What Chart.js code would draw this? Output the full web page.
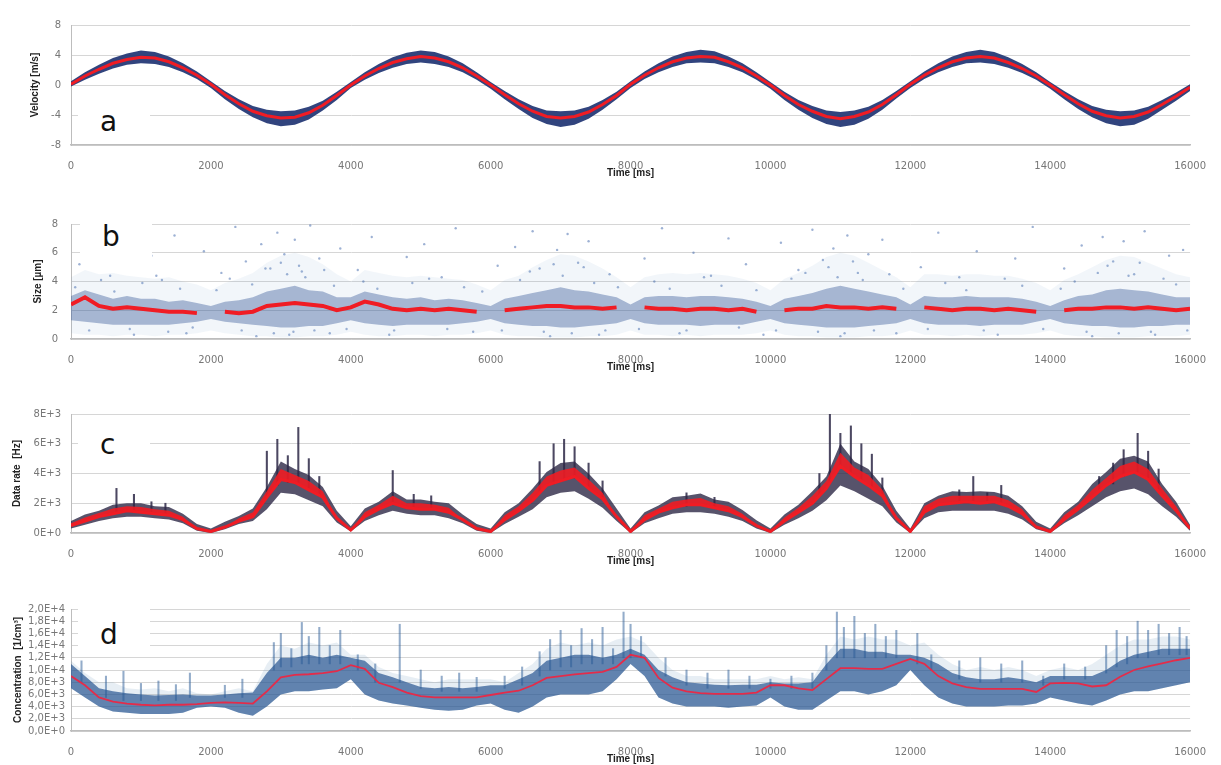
<!DOCTYPE html>
<html>
<head>
<meta charset="utf-8">
<script src="https://cdn.jsdelivr.net/npm/chart.js@4.4.1/dist/chart.umd.min.js"></script>
<style>
  body { margin: 0; background: #fff; width: 1221px; height: 765px; overflow: hidden; position: relative; font-family: "DejaVu Sans", sans-serif; }
  canvas { position: absolute; left: 0; }
  .tag { position: absolute; background: #fff; z-index: 2; }
  .tag span { position: absolute; font-size: 28px; line-height: 28px; color: #111; }
</style>
</head>
<body>
<canvas id="chartA" width="1221" height="170" style="top:9px"></canvas>
<canvas id="chartB" width="1221" height="168" style="top:205px"></canvas>
<canvas id="chartC" width="1221" height="169" style="top:398px"></canvas>
<canvas id="chartD" width="1221" height="168" style="top:597px"></canvas>
<div class="tag" style="left:78px;top:96px;width:72px;height:44px"><span style="left:22px;top:12px">a</span></div>
<div class="tag" style="left:80px;top:208px;width:72px;height:49px"><span style="left:22px;top:15px">b</span></div>
<div class="tag" style="left:78px;top:428px;width:72px;height:34px"><span style="left:22px;top:3px">c</span></div>
<div class="tag" style="left:78px;top:603px;width:72px;height:52px"><span style="left:22px;top:18px">d</span></div>
<script>
// time axis, ms
const timeMs = [0,200,400,600,800,1000,1200,1400,1600,1800,2000,2200,2400,2600,2800,3000,3200,3400,3600,3800,4000,
  4200,4400,4600,4800,5000,5200,5400,5600,5800,6000,6200,6400,6600,6800,7000,7200,7400,7600,7800,8000,
  8200,8400,8600,8800,9000,9200,9400,9600,9800,10000,10200,10400,10600,10800,11000,11200,11400,11600,11800,12000,
  12200,12400,12600,12800,13000,13200,13400,13600,13800,14000,14200,14400,14600,14800,15000,15200,15400,15600,15800,16000];
const xTicks = [0,2000,4000,6000,8000,10000,12000,14000,16000];
const xTickLabels = ['0','2000','4000','6000','8000','10000','12000','14000','16000'];

// a - velocity
const velMean = [0.1,1.2,2.1,2.9,3.4,3.7,3.6,3.1,2.3,1.3,0.1,
  -1.3,-2.5,-3.5,-4.1,-4.4,-4.3,-3.7,-2.7,-1.4,0.0,
  1.2,2.2,3.0,3.5,3.8,3.6,3.1,2.3,1.2,0.0,
  -1.3,-2.5,-3.5,-4.2,-4.4,-4.2,-3.6,-2.6,-1.4,0.1,
  1.3,2.3,3.1,3.6,3.8,3.7,3.1,2.3,1.2,0.0,
  -1.4,-2.6,-3.5,-4.2,-4.5,-4.2,-3.6,-2.6,-1.3,0.1,
  1.3,2.3,3.1,3.6,3.8,3.6,3.0,2.2,1.2,0.0,
  -1.3,-2.5,-3.5,-4.1,-4.4,-4.2,-3.6,-2.6,-1.5,-0.3];
const velHigh = [0.5,1.7,2.7,3.6,4.2,4.6,4.4,3.8,2.9,1.8,0.5,
  -0.8,-1.9,-2.8,-3.3,-3.5,-3.4,-2.9,-2.1,-0.9,0.4,
  1.7,2.8,3.7,4.3,4.6,4.4,3.8,2.9,1.7,0.4,
  -0.8,-1.9,-2.8,-3.4,-3.5,-3.4,-2.9,-2.0,-0.9,0.5,
  1.8,2.9,3.8,4.4,4.7,4.5,3.8,2.9,1.7,0.4,
  -0.9,-2.0,-2.8,-3.4,-3.6,-3.4,-2.9,-2.0,-0.8,0.5,
  1.8,2.9,3.8,4.4,4.7,4.4,3.7,2.8,1.7,0.4,
  -0.8,-1.9,-2.8,-3.3,-3.5,-3.4,-2.9,-2.0,-1.0,0.1];
const velLow = [-0.2,0.7,1.5,2.2,2.7,2.9,2.8,2.4,1.7,0.8,-0.4,
  -1.9,-3.2,-4.3,-5.1,-5.5,-5.3,-4.6,-3.4,-2.0,-0.4,
  0.7,1.6,2.3,2.8,3.0,2.8,2.4,1.7,0.7,-0.5,
  -1.9,-3.2,-4.4,-5.2,-5.6,-5.3,-4.5,-3.3,-1.9,-0.4,
  0.8,1.7,2.4,2.9,3.0,2.9,2.4,1.7,0.7,-0.5,
  -2.0,-3.3,-4.4,-5.2,-5.6,-5.3,-4.5,-3.3,-1.8,-0.4,
  0.8,1.7,2.4,2.9,3.0,2.8,2.3,1.6,0.7,-0.5,
  -1.9,-3.2,-4.3,-5.1,-5.5,-5.3,-4.5,-3.3,-2.1,-0.8];

// b - size
const sizeMean = [2.4,2.9,2.3,2.1,2.2,2.1,2.0,1.9,1.9,1.8,null,
  1.9,1.8,1.9,2.3,2.4,2.5,2.4,2.3,2.0,2.2,
  2.6,2.4,2.1,2.0,2.1,2.0,2.1,2.0,1.9,null,
  2.0,2.1,2.2,2.3,2.3,2.2,2.2,2.1,2.2,null,
  2.2,2.1,2.1,2.0,2.1,2.1,2.0,2.1,1.9,null,
  2.0,2.1,2.1,2.3,2.2,2.2,2.1,2.2,2.1,null,
  2.2,2.1,2.0,2.1,2.1,2.0,2.1,2.0,1.9,null,
  2.0,2.1,2.1,2.2,2.2,2.1,2.2,2.1,2.0,2.1];
const sizeCoreHigh = [3.0,3.4,3.1,2.8,3.0,2.8,2.8,2.6,2.7,2.5,2.3,
  2.6,2.7,2.9,3.3,3.5,3.7,3.4,3.3,2.9,2.9,
  3.3,3.1,2.9,2.8,2.9,2.7,2.8,2.7,2.5,2.3,
  2.8,3.0,3.2,3.4,3.6,3.4,3.3,3.1,2.9,2.4,
  2.9,3.0,3.0,2.9,3.0,3.0,2.9,2.8,2.6,2.3,
  2.8,3.0,3.2,3.5,3.7,3.5,3.3,3.1,2.9,2.4,
  3.0,2.9,2.9,3.0,2.9,2.9,2.9,2.8,2.6,2.3,
  2.7,3.0,3.1,3.4,3.5,3.4,3.3,3.1,2.9,2.9];
const sizeCoreLow = [1.3,1.2,1.1,1.0,1.0,1.0,1.0,1.0,1.1,1.2,1.4,
  1.2,1.1,1.0,0.9,0.8,0.8,0.9,0.9,1.1,1.3,
  1.1,1.0,0.9,1.0,1.0,1.0,1.0,1.1,1.2,1.4,
  1.1,1.0,0.9,0.9,0.8,0.8,0.9,1.0,1.1,1.4,
  1.1,1.0,1.0,1.0,0.9,1.0,1.0,1.0,1.2,1.4,
  1.1,1.0,0.9,0.8,0.8,0.8,0.9,1.0,1.1,1.4,
  1.1,1.0,1.0,1.0,0.9,1.0,1.0,1.0,1.2,1.4,
  1.1,1.0,0.9,0.9,0.8,0.8,0.9,0.9,1.0,1.0];
const sizeOuterHigh = [4.3,4.8,4.5,4.6,4.4,4.3,4.2,4.3,4.0,3.8,3.4,
  3.9,4.2,4.6,5.3,5.8,6.0,5.7,5.2,4.5,4.0,
  4.8,4.6,4.4,4.3,4.4,4.3,4.2,4.1,3.8,3.4,
  4.1,4.4,5.0,5.5,5.9,5.8,5.4,4.9,4.3,3.6,
  4.3,4.5,4.6,4.5,4.6,4.5,4.4,4.2,3.9,3.4,
  4.2,4.6,5.1,5.7,6.0,5.8,5.3,4.8,4.3,3.6,
  4.5,4.5,4.4,4.5,4.5,4.4,4.4,4.2,3.9,3.4,
  4.1,4.5,5.0,5.5,5.8,5.7,5.3,4.9,4.5,4.3];
const sizeOuterLow = [0.4,0.3,0.3,0.2,0.3,0.3,0.2,0.3,0.3,0.4,0.6,
  0.4,0.3,0.2,0.2,0.1,0.1,0.2,0.2,0.3,0.5,
  0.3,0.2,0.2,0.3,0.3,0.2,0.3,0.3,0.4,0.6,
  0.3,0.2,0.2,0.1,0.1,0.1,0.2,0.2,0.3,0.6,
  0.3,0.3,0.2,0.3,0.2,0.3,0.3,0.3,0.4,0.6,
  0.3,0.2,0.2,0.1,0.1,0.1,0.2,0.2,0.3,0.6,
  0.3,0.3,0.2,0.3,0.2,0.3,0.3,0.3,0.4,0.6,
  0.3,0.2,0.2,0.1,0.1,0.1,0.2,0.2,0.2,0.3];
const sizeDotsT = [120,350,560,780,900,1150,1300,1480,1650,1900,2150,2350,2500,2650,2720,2850,2950,3050,3120,3200,
  3300,3420,3550,3700,3850,4100,4300,4550,4800,5050,5300,5500,5750,6100,6350,6600,6700,6850,6950,7100,
  7250,7400,7550,7700,8200,8450,8700,8900,9150,9400,9650,9900,10150,10400,10600,10750,10900,11000,11100,11250,
  11400,11600,11800,12150,12400,12700,12950,13250,13500,13750,14200,14450,14600,14750,14900,15050,15200,15350,15500,15700,15900,
  60,260,430,620,840,1020,1220,1390,1560,1740,2080,2270,2440,2590,2780,2900,3000,3090,3180,3260,
  3350,3480,3620,3760,3940,4180,4380,4620,4880,5120,5380,5620,5880,6160,6420,6560,6760,6900,7030,7160,
  7330,7480,7640,7820,8120,8340,8560,8800,9050,9300,9550,9800,10080,10300,10500,10680,10830,10960,11060,11180,
  11320,11480,11700,11900,12250,12500,12800,13050,13350,13600,13900,14150,14350,14520,14680,14820,14980,15120,15280,15440,
  15620,15800,15960];
const sizeDotsV = [5.2,6.8,4.4,7.6,0.3,5.8,4.1,7.2,0.4,6.1,4.6,7.8,5.4,0.2,6.6,4.9,7.4,5.9,0.3,6.9,
  4.7,7.9,5.6,0.4,6.3,4.8,7.1,0.3,5.7,6.6,4.3,7.7,0.5,5.1,6.4,7.5,4.9,0.2,6.2,7.3,
  5.3,6.8,0.3,4.5,5.6,7.7,0.4,6.0,4.4,7.0,5.2,0.3,6.7,4.8,7.6,5.5,6.3,0.2,7.2,4.6,
  5.9,6.9,0.4,5.0,7.4,4.3,6.1,0.3,5.6,7.8,4.9,6.5,0.2,7.1,5.4,6.8,4.5,7.5,0.3,5.8,6.2,
  3.6,0.6,4.1,3.3,0.7,3.9,4.4,0.5,3.5,0.8,3.4,4.2,0.6,3.8,4.9,0.4,5.3,4.5,0.5,5.1,
  4.3,0.6,4.8,3.7,0.7,4.0,3.5,0.6,3.9,4.2,0.7,3.6,3.3,0.6,4.1,4.7,0.5,5.2,4.4,0.4,
  5.0,3.9,0.6,3.6,0.7,4.0,3.5,0.6,4.3,3.7,0.8,3.4,0.6,4.2,4.6,0.5,5.0,4.3,0.4,5.4,
  4.1,0.6,4.5,3.5,0.7,3.9,3.4,0.6,4.2,3.7,0.7,3.5,4.0,0.5,4.6,5.1,0.4,4.4,5.3,0.5,
  4.2,3.8,0.6];

// c - data rate
const rateMean = [500,800,1100,1300,1500,1400,1300,1200,900,300,100,
  400,800,1100,2400,3600,3400,2900,2400,1000,200,
  1100,1600,2000,1700,1600,1600,1400,900,300,100,
  900,1500,2200,3200,3500,3800,3000,2300,1100,100,
  900,1400,1700,1900,1900,1700,1500,1100,500,100,
  800,1400,2000,3000,4500,3800,3200,2500,1000,100,
  1400,1900,2000,2100,2000,2100,1800,1300,400,100,
  900,1600,2400,3200,3800,4100,3600,2500,1500,300];
const rateRedTop = [650,1050,1350,1650,1800,1750,1600,1500,1100,300,100,
  400,1000,1400,2800,4300,3900,3500,2800,1000,200,
  1400,1900,2500,2000,2000,1900,1700,900,300,100,
  1200,1800,2700,3800,4200,4400,3600,2700,1100,100,
  1200,1650,2100,2250,2350,2000,1800,1300,500,100,
  1050,1700,2500,3500,5400,4400,3900,2900,1000,100,
  1800,2300,2500,2500,2500,2500,2200,1600,400,100,
  1200,1900,2900,3700,4500,4800,4300,3000,1800,300];
const rateHigh = [800,1250,1500,1900,2000,2000,1800,1750,1300,600,300,
  750,1150,1650,3100,4800,4300,3900,3100,1500,450,
  1650,2100,2800,2250,2250,2100,2000,1250,600,300,
  1400,2000,3000,4100,4700,4800,4000,3000,1650,300,
  1400,1850,2400,2500,2650,2250,2100,1550,850,300,
  1250,1900,2800,3800,6000,4800,4300,3200,1500,300,
  2000,2500,2800,2750,2800,2750,2500,1800,750,300,
  1400,2100,3300,4100,5000,5200,4800,3300,2100,550];
const rateLow = [300,550,800,1000,1100,1100,1000,900,650,150,0,
  250,600,800,1600,2700,2600,2200,1800,700,100,
  800,1200,1500,1300,1200,1200,1000,650,150,0,
  600,1100,1600,2400,2700,2800,2300,1700,800,0,
  650,1000,1300,1400,1400,1300,1100,800,300,0,
  550,1000,1500,2200,3200,2800,2300,1800,700,0,
  1000,1400,1500,1500,1500,1500,1300,900,250,0,
  650,1200,1800,2400,2800,3000,2600,1800,1100,150];
const rateSpikeT = [650,900,1150,1350,2800,2950,3100,3250,3400,3550,4600,4900,5150,6700,6900,7050,7200,7400,7600,8800,
  9200,10700,10850,11000,11150,11300,11450,11600,12700,12900,13100,13300,14700,14900,15050,15250,15400,15550];
const rateSpikeLow = [1300,1400,1300,1200,2400,3200,3400,3300,3000,2500,1900,1700,1600,2800,3300,3600,3700,3000,2300,1800,
  1700,2500,3500,4500,4000,3500,3000,2500,2000,2100,2000,2000,2800,3300,3800,4100,3700,2800];
const rateSpikeHigh = [3000,2600,2100,2000,5500,6300,5200,7100,5000,3800,4200,2600,2500,4800,6000,6300,5800,4700,3500,2700,
  2400,4000,8000,6700,7200,6000,5300,3700,2900,3800,2700,3200,3800,4700,5600,6700,5500,4300];

// d - concentration
const concMean = [9000,7500,5500,4800,4500,4300,4200,4300,4300,4400,4600,
  4700,4600,4500,6500,8800,9200,9300,9500,9800,10800,
  10200,7900,7200,6300,5700,5500,5500,5500,5500,5900,
  6300,6600,7500,8700,9000,9300,9500,9700,10500,12500,
  12000,8700,7100,6500,6200,6100,6100,6100,6300,7500,
  7500,7000,6700,8500,10300,10300,10200,10200,11000,11800,
  11000,9000,7800,7200,6900,6900,6900,6900,6400,7800,
  7900,7800,7300,7500,8900,10000,10600,11100,11600,12000];
const concCoreHigh = [11000,9000,7000,6500,6200,6000,5800,5900,6000,5800,5800,
  6000,6200,6300,9500,12000,12000,12500,12000,12500,12000,
  11500,9500,8800,8000,7200,7000,7200,7000,7200,7500,
  7500,8500,9500,11500,12000,12500,12500,12000,12500,13500,
  12500,10000,8800,8000,7800,7600,7500,7600,7600,8000,
  7800,7800,8000,11000,13500,13500,13000,13000,12500,12500,
  12000,11000,9500,8800,8500,8500,8800,8500,8000,9000,
  9000,9000,9000,10000,11500,12500,13000,13500,13500,13500];
const concCoreLow = [7000,5500,4000,3200,3000,2800,2800,2800,3000,3800,4000,
  3800,3000,2500,4000,6000,6500,6500,6800,7000,8500,
  6000,5000,4500,4200,3800,3500,3300,3500,4200,4500,
  3500,3000,4000,5500,6000,6000,6000,6500,8500,11000,
  9000,5500,4500,4000,4000,4000,3800,4000,4200,5500,
  4000,3500,3500,5000,6500,6500,6000,6500,7500,10000,
  7500,5500,4500,4000,4000,4000,4200,4200,4500,5500,
  5000,4500,4200,5000,6000,6500,6500,7000,7500,8000];
const concOuterHigh = [11500,9500,8000,8000,7000,6800,7000,6500,7000,6200,6000,
  6500,7000,6500,11000,14000,13500,14500,14000,14500,12500,
  12500,10500,9500,9000,8500,8000,8500,8500,8500,8500,
  8000,9500,11000,13500,14500,14000,14500,14000,15000,15500,
  14500,12000,10000,9000,9000,8500,8500,8500,8500,9000,
  8500,8800,8500,12500,15500,15000,15500,15000,15000,14000,
  14500,12500,11000,10000,10500,10000,10500,10000,9000,10000,
  10500,10000,11000,12500,14000,15000,15000,15500,15500,15000];
const concStreakT = [150,500,750,1000,1250,1500,1700,2200,2450,2900,3000,3150,3300,3400,3550,3700,3850,4100,4350,4700,
  5000,5300,5550,5800,6200,6450,6700,6850,7000,7150,7300,7450,7600,7750,7900,8000,8150,8500,8800,9100,
  9400,9700,10000,10300,10600,10800,10950,11050,11200,11350,11500,11650,11800,12100,12300,12700,13000,13300,13600,13900,
  14200,14500,14800,14950,15100,15250,15400,15550,15700,15850,15950];
const concStreakLow = [8000,5500,5000,5000,5000,5000,5500,5500,5500,10000,10500,10500,11000,11000,11000,11000,11000,10000,8000,8000,
  7000,6500,6500,6500,7000,7500,9000,10000,10500,10500,11000,11000,11000,11000,12000,12000,12000,9000,7500,7000,
  7000,7000,7000,7000,7000,10000,12000,12000,12000,12000,12000,12000,12000,11000,10000,8500,8000,8000,8000,7500,
  8500,8500,9500,10500,11000,12000,12000,12500,12500,12500,12500];
const concStreakHigh = [11500,9000,9800,7800,8200,7600,9500,7500,8500,14500,16000,13500,17800,15500,17000,14000,16500,12500,11000,17500,
  10000,9000,9500,8800,9000,10500,13000,15000,16500,14000,16800,15000,17000,13500,19500,17500,15500,12000,10000,9500,
  10000,9000,8500,9000,9500,14000,19500,17000,18800,16000,17500,15500,16500,16000,12500,11500,12000,11000,11500,9000,
  11000,10500,14000,16500,15500,18000,16500,17500,16000,17000,15500];

const yTicksA = [-8,-4,0,4,8];
const yLabelsA = ['-8','-4','0','4','8'];
const yTicksB = [0,2,4,6,8];
const yLabelsB = ['0','2','4','6','8'];
const yTicksC = [0,2000,4000,6000,8000];
const yLabelsC = ['0E+0','2E+3','4E+3','6E+3','8E+3'];
const yTicksD = [0,2000,4000,6000,8000,10000,12000,14000,16000,18000,20000];
const yLabelsD = ['0,0E+0','2,0E+3','4,0E+3','6,0E+3','8,0E+3','1,0E+4','1,2E+4','1,4E+4','1,6E+4','1,8E+4','2,0E+4'];

[velMean, velHigh, velLow, sizeMean, sizeCoreHigh, sizeCoreLow, sizeOuterHigh, sizeOuterLow,
 rateMean, rateRedTop, rateHigh, rateLow, concMean, concCoreHigh, concCoreLow, concOuterHigh].forEach((a, i) => {
  if (a.length !== timeMs.length) throw new Error('array ' + i + ' has ' + a.length);
});
if (sizeDotsT.length !== sizeDotsV.length) throw new Error('dots ' + sizeDotsT.length + ' ' + sizeDotsV.length);
if (rateSpikeT.length !== rateSpikeLow.length || rateSpikeT.length !== rateSpikeHigh.length) throw new Error('rate spikes');
if (concStreakT.length !== concStreakLow.length || concStreakT.length !== concStreakHigh.length)
  throw new Error('streaks ' + concStreakT.length + ' ' + concStreakLow.length + ' ' + concStreakHigh.length);

const pts = ys => timeMs.map((t, i) => ({ x: t, y: ys[i] }));
const RED = '#f01c24';

function redLine(ys, width, color) {
  return { data: pts(ys), borderColor: color || RED, borderWidth: width, pointRadius: 0, fill: false, tension: 0, spanGaps: false };
}
function edge(ys) {
  return { data: pts(ys), borderWidth: 0, borderColor: 'rgba(0,0,0,0)', pointRadius: 0, fill: false, tension: 0 };
}
function band(ys, color, target) {
  return { data: pts(ys), borderWidth: 0, borderColor: 'rgba(0,0,0,0)', pointRadius: 0, tension: 0,
           fill: { target: target }, backgroundColor: color };
}
function spikes(ts, lows, highs, color) {
  return { type: 'bar', data: ts.map((t, i) => ({ x: t, y: [lows[i], highs[i]] })), backgroundColor: color,
           barThickness: 1.4, grouped: false, borderWidth: 0 };
}

function makeChart(id, o) {
  return new Chart(document.getElementById(id), {
    type: 'line',
    data: { datasets: o.datasets },
    options: {
      responsive: false,
      animation: false,
      devicePixelRatio: 1,
      layout: { padding: { top: 10, right: o.padRight, left: 0, bottom: 0 } },
      plugins: { legend: { display: false }, tooltip: { enabled: false } },
      scales: {
        x: {
          type: 'linear', min: 0, max: 16000, offset: false,
          afterBuildTicks: s => { s.ticks = xTicks.map(v => ({ value: v })); },
          afterFit: s => { s.height = 34; },
          ticks: { callback: (v, i) => xTickLabels[i], padding: 15, maxRotation: 0, autoSkip: false,
                   color: '#777', font: { family: 'DejaVu Sans', size: 10 } },
          grid: { display: false, drawTicks: false, offset: false },
          border: { display: true, color: '#bdbdbd', width: 1.5 },
          title: { display: true, text: 'Time [ms]', color: '#222', padding: { top: 0, bottom: 0 },
                   font: { family: 'Liberation Sans', size: 10, weight: 'bold' } }
        },
        y: {
          min: o.yTicks[0], max: o.yTicks[o.yTicks.length - 1],
          afterBuildTicks: s => { s.ticks = o.yTicks.map(v => ({ value: v })); },
          afterFit: s => { s.width = o.left; },
          ticks: { callback: (v, i) => o.yLabels[i], padding: o.tickPad, autoSkip: false,
                   color: '#777', font: { family: 'DejaVu Sans', size: 10 } },
          grid: { color: '#d6d6d6', drawTicks: false },
          border: { display: true, color: '#bdbdbd' },
          title: { display: true, text: o.yTitle, color: '#222', padding: { top: o.titlePad, bottom: 0 },
                   font: { family: 'Liberation Sans', size: 10, weight: 'bold' } }
        }
      }
    }
  });
}

makeChart('chartA', {
  left: 71, padRight: 22, tickPad: 10, titlePad: 29, yTitle: 'Velocity [m/s]',
  yTicks: yTicksA, yLabels: yLabelsA,
  datasets: [
    redLine(velMean, 3),
    edge(velLow),
    band(velHigh, 'rgba(32,52,115,0.92)', 1)
  ]
});

makeChart('chartB', {
  left: 71, padRight: 22, tickPad: 13, titlePad: 32, yTitle: 'Size [µm]',
  yTicks: yTicksB, yLabels: yLabelsB,
  datasets: [
    redLine(sizeMean, 4),
    edge(sizeCoreLow),
    band(sizeCoreHigh, 'rgba(50,85,150,0.40)', 1),
    edge(sizeOuterLow),
    band(sizeOuterHigh, 'rgba(110,150,200,0.09)', 3),
    { type: 'scatter', data: sizeDotsT.map((t, i) => ({ x: t, y: sizeDotsV[i] })), showLine: false,
      pointRadius: 1.2, borderWidth: 0, backgroundColor: 'rgba(60,100,170,0.5)' }
  ]
});

makeChart('chartC', {
  left: 71, padRight: 22, tickPad: 10, titlePad: 11, yTitle: 'Data rate  [Hz]',
  yTicks: yTicksC, yLabels: yLabelsC,
  datasets: [
    redLine(rateMean, 3),
    band(rateRedTop, 'rgba(240,28,36,0.9)', 0),
    spikes(rateSpikeT, rateSpikeLow, rateSpikeHigh, 'rgba(45,40,70,0.85)'),
    edge(rateLow),
    band(rateHigh, 'rgba(45,40,70,0.8)', 3)
  ]
});

makeChart('chartD', {
  left: 71, padRight: 18, tickPad: 6, titlePad: 12, yTitle: 'Concentration  [1/cm³]',
  yTicks: yTicksD, yLabels: yLabelsD,
  datasets: [
    redLine(concMean, 1.8, 'rgba(235,40,70,0.95)'),
    spikes(concStreakT, concStreakLow, concStreakHigh, 'rgba(40,90,150,0.5)'),
    edge(concCoreLow),
    band(concCoreHigh, 'rgba(40,85,145,0.7)', 2),
    band(concOuterHigh, 'rgba(70,120,170,0.13)', 2)
  ]
});
</script>
</body>
</html>
